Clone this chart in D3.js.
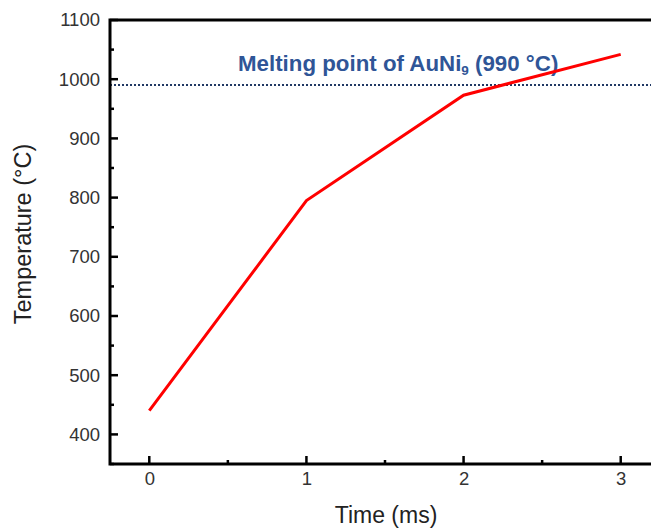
<!DOCTYPE html>
<html>
<head>
<meta charset="utf-8">
<script src="https://cdn.jsdelivr.net/npm/d3@7"></script>
<style>
  body { margin: 0; background: #fff; }
  svg { display: block; font-family: Arial, "Liberation Sans", sans-serif; }
</style>
</head>
<body>
<svg id="chart" width="651" height="529"></svg>
<script>
// data
const timeMs = [0, 1, 2, 3];
const temperature = [440, 795, 973, 1042];
const yTicks = [400, 500, 600, 700, 800, 900, 1000, 1100];
const xTicks = [0, 1, 2, 3];
const meltingPoint = 990;

const width = 651, height = 529;
const margin = { top: 20, right: -9, bottom: 65, left: 110 };

const svg = d3.select('#chart');

const x = d3.scaleLinear()
  .domain([-0.25, 3.25])
  .range([margin.left, width - margin.right]);

const y = d3.scaleLinear()
  .domain([350, 1100])
  .range([height - margin.bottom, margin.top]);

// melting point reference line
svg.append('line')
  .attr('x1', margin.left)
  .attr('x2', width)
  .attr('y1', y(meltingPoint))
  .attr('y2', y(meltingPoint))
  .attr('stroke', '#203864')
  .attr('stroke-width', 2)
  .attr('stroke-dasharray', '2,2');

const label = svg.append('text')
  .attr('x', 238)
  .attr('y', 71)
  .attr('fill', '#2f5597')
  .attr('font-size', 22.3)
  .attr('font-weight', 'bold');
label.append('tspan').text('Melting point of AuNi');
label.append('tspan').attr('font-size', 13.5).attr('dy', 4).text('9');
label.append('tspan').attr('dy', -4).text(' (990 °C)');

// data line
const line = d3.line()
  .x((d, i) => x(timeMs[i]))
  .y((d) => y(d));

svg.append('path')
  .datum(temperature)
  .attr('d', line)
  .attr('fill', 'none')
  .attr('stroke', '#ff0000')
  .attr('stroke-width', 3);

// axes
const yAxis = svg.append('g')
  .attr('transform', `translate(${margin.left},0)`)
  .call(d3.axisLeft(y).tickValues(yTicks).tickFormat(d3.format('d')).tickSize(0).tickPadding(10));

yAxis.select('.domain').remove();
yAxis.selectAll('text')
  .attr('font-size', 18.5)
  .attr('fill', '#333')
  .attr('font-family', 'Arial, "Liberation Sans", sans-serif');

const xAxis = svg.append('g')
  .attr('transform', `translate(0,${height - margin.bottom})`)
  .call(d3.axisBottom(x).tickValues(xTicks).tickFormat(d3.format('d')).tickSize(0).tickPadding(8));

xAxis.select('.domain').remove();
xAxis.selectAll('text')
  .attr('font-size', 18.5)
  .attr('fill', '#333')
  .attr('font-family', 'Arial, "Liberation Sans", sans-serif');

// inward ticks
const yMinor = d3.range(350, 1100, 50).filter((v) => v % 100 !== 0);
svg.append('g').selectAll('line')
  .data(yTicks)
  .join('line')
  .attr('x1', margin.left)
  .attr('x2', margin.left + 8)
  .attr('y1', (d) => y(d))
  .attr('y2', (d) => y(d))
  .attr('stroke', '#000')
  .attr('stroke-width', 2.5);
svg.append('g').selectAll('line')
  .data(yMinor)
  .join('line')
  .attr('x1', margin.left)
  .attr('x2', margin.left + 4)
  .attr('y1', (d) => y(d))
  .attr('y2', (d) => y(d))
  .attr('stroke', '#000')
  .attr('stroke-width', 2.5);

const xMinor = [0.5, 1.5, 2.5];
svg.append('g').selectAll('line')
  .data(xTicks)
  .join('line')
  .attr('x1', (d) => x(d))
  .attr('x2', (d) => x(d))
  .attr('y1', y(350))
  .attr('y2', y(350) - 8)
  .attr('stroke', '#000')
  .attr('stroke-width', 2.5);
svg.append('g').selectAll('line')
  .data(xMinor)
  .join('line')
  .attr('x1', (d) => x(d))
  .attr('x2', (d) => x(d))
  .attr('y1', y(350))
  .attr('y2', y(350) - 4)
  .attr('stroke', '#000')
  .attr('stroke-width', 2.5);

// frame: left, bottom, top
svg.append('path')
  .attr('d', `M${width},${y(1100)}H${margin.left}V${y(350)}H${width}`)
  .attr('fill', 'none')
  .attr('stroke', '#000')
  .attr('stroke-width', 3);

// axis titles
svg.append('text')
  .attr('x', 386)
  .attr('y', 523)
  .attr('text-anchor', 'middle')
  .attr('font-size', 23)
  .attr('fill', '#222')
  .text('Time (ms)');

svg.append('text')
  .attr('transform', 'translate(31,234) rotate(-90)')
  .attr('text-anchor', 'middle')
  .attr('font-size', 23.5)
  .attr('fill', '#222')
  .text('Temperature (°C)');
</script>
</body>
</html>
